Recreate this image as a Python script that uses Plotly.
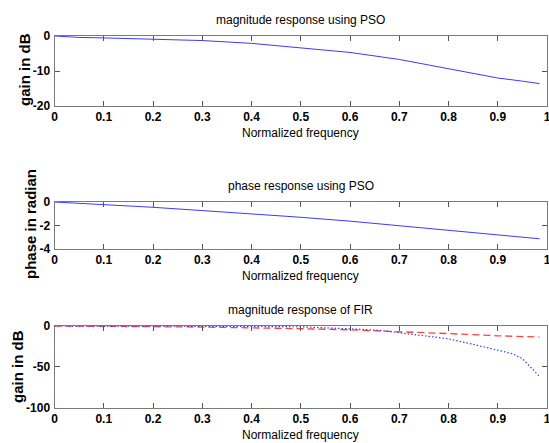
import plotly.graph_objects as go

# ---- data ----
freq = [0, 0.05, 0.1, 0.2, 0.3, 0.4, 0.5, 0.6, 0.7, 0.8, 0.9, 0.95, 0.985]
mag_pso = [0, -0.4, -0.55, -0.85, -1.3, -2.1, -3.3, -4.7, -6.7, -9.3, -12.0, -12.9, -13.6]
phase_pso = [0, -0.1, -0.23, -0.45, -0.73, -1.0, -1.3, -1.63, -2.03, -2.42, -2.82, -2.98, -3.13]

fir_freq = [0, 0.1, 0.2, 0.3, 0.4, 0.5, 0.55, 0.6, 0.66, 0.73, 0.8, 0.86, 0.93, 0.95, 0.97, 0.985]
fir_mag = [0, 0, 0, -0.2, -0.5, -1.0, -2.0, -3.5, -5.3, -10.7, -15.7, -23.9, -34, -40, -52.6, -62]

x_ticks = [0, 0.1, 0.2, 0.3, 0.4, 0.5, 0.6, 0.7, 0.8, 0.9, 1]
x_ticklabels = ["0", "0.1", "0.2", "0.3", "0.4", "0.5", "0.6", "0.7", "0.8", "0.9", "1"]
y1_ticks = [0, -10, -20]
y2_ticks = [0, -2, -4]
y3_ticks = [0, -50, -100]
y1_labels = ["0", "-10", "-20"]
y2_labels = ["0", "-2", "-4"]
y3_labels = ["0", "-50", "-100"]

titles = ["magnitude response using PSO", "phase response using PSO", "magnitude response of FIR"]
ylabels = ["gain in dB", "phase in radian", "gain in dB"]
xlabel = "Normalized frequency"

W, H = 549, 443
TXT = "Liberation Sans, Arial"
BOLD = "Liberation Sans, Arial"

fig = go.Figure()
fig.add_trace(go.Scatter(x=freq, y=mag_pso, mode="lines",
                         line=dict(color="#3a3aff", width=1), xaxis="x", yaxis="y"))
fig.add_trace(go.Scatter(x=freq, y=phase_pso, mode="lines",
                         line=dict(color="#3a3aff", width=1), xaxis="x2", yaxis="y2"))
fig.add_trace(go.Scatter(x=freq, y=mag_pso, mode="lines",
                         line=dict(color="#ff4040", width=1.3, dash="7px,4px"), xaxis="x3", yaxis="y3"))
fig.add_trace(go.Scatter(x=fir_freq, y=fir_mag, mode="lines",
                         line=dict(color="#3a3aff", width=1.2, dash="1.5px,2px"), xaxis="x3", yaxis="y3"))

xdom = [54.5 / W, 547 / W]
# panel pixel bounds (top, bottom)
panels = [(36, 106), (202, 249), (326, 407.5)]
yranges = [[-20, 0], [-4, 0], [-100, 0]]
yticks = [y1_ticks, y2_ticks, y3_ticks]
ylabs = [y1_labels, y2_labels, y3_labels]

axis_common = dict(
    showline=True, linecolor="#7a7a7a", linewidth=1, mirror="ticks",
    ticks="inside", ticklen=5, tickcolor="#555", tickwidth=1,
    showgrid=False, zeroline=False, automargin=False, ticklabeloverflow="allow",
    tickfont=dict(family=BOLD, size=12, color="black", weight="bold"),
)

layout = dict(width=W, height=H, margin=dict(l=0, r=0, t=0, b=0),
              template="none",
              paper_bgcolor="white", plot_bgcolor="white", showlegend=False)
annotations = []
ylab_x = [25, 30, 17]
ylab_y = [70, 224, 367]
for i, (top, bot) in enumerate(panels):
    sfx = "" if i == 0 else str(i + 1)
    ydom = [1 - bot / H, 1 - top / H]
    layout["xaxis" + sfx] = dict(axis_common, domain=xdom, range=[0, 1],
                                 tickvals=x_ticks, ticktext=x_ticklabels,
                                 anchor="y" + sfx)
    layout["yaxis" + sfx] = dict(axis_common, domain=ydom, range=yranges[i],
                                 tickvals=yticks[i], ticktext=ylabs[i],
                                 anchor="x" + sfx, ticklabelstandoff=1)
    # title
    annotations.append(dict(text=titles[i], xref="paper", yref="paper",
                            x=(xdom[0] + xdom[1]) / 2, y=1 - (top - 16) / H,
                            showarrow=False, xanchor="center", yanchor="middle",
                            font=dict(family=TXT, size=12, color="black")))
    # x label
    annotations.append(dict(text=xlabel, xref="paper", yref="paper",
                            x=(xdom[0] + xdom[1]) / 2, y=1 - (bot + 27) / H,
                            showarrow=False, xanchor="center", yanchor="middle",
                            font=dict(family=TXT, size=12, color="black")))
    # y label
    annotations.append(dict(text=ylabels[i], xref="paper", yref="paper",
                            x=ylab_x[i] / W, y=1 - ylab_y[i] / H, textangle=-90,
                            showarrow=False, xanchor="center", yanchor="middle",
                            font=dict(family=BOLD, size=15, color="black", weight="bold")))
layout["annotations"] = annotations
fig.update_layout(**layout)
fig.write_html("out.html", config={"displayModeBar": False},
               post_script="document.body.style.margin='0';document.body.style.overflow='hidden';")
